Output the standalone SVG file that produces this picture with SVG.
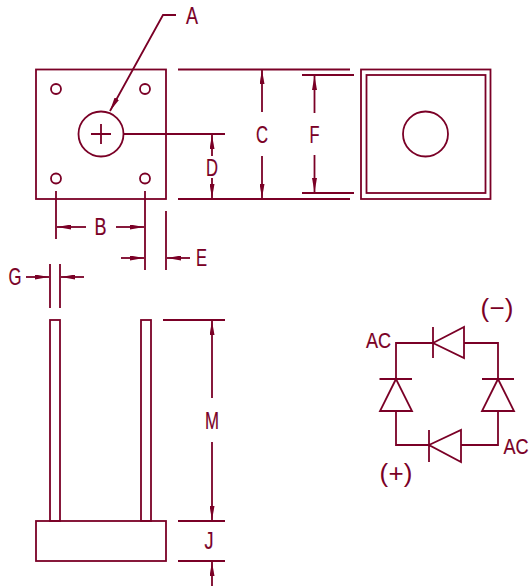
<svg xmlns="http://www.w3.org/2000/svg" width="530" height="586" viewBox="0 0 530 586">
<style>
.s{fill:none;stroke:#7a0026;stroke-width:1.8}
.t{fill:#7a0026;stroke:#7a0026;stroke-width:.2;font-family:"Liberation Sans",Arial,sans-serif;font-size:24px;text-anchor:middle}
.p{font-size:26px;stroke:none}
.c{font-size:22px}
</style>
<defs>
<marker id="a" viewBox="0 0 14 5" refX="14" refY="2.500" markerWidth="14" markerHeight="5" markerUnits="userSpaceOnUse" orient="auto"><path d="M0 0L14 2.500L0 5Z" fill="#7a0026"/></marker>
</defs>
<rect width="530" height="586" fill="#fff"/>
<g id="top-view" class="s">
<rect x="36" y="69.500" width="130" height="129.500"/>
<circle cx="56" cy="89" r="5"/><circle cx="145" cy="89" r="5"/><circle cx="56" cy="178.500" r="5"/><circle cx="145" cy="178.500" r="5"/>
<circle cx="101" cy="134" r="22.500"/>
<path d="M91 134H111M101 124V144"/>
</g>
<g id="back-view" class="s">
<rect x="361" y="69.500" width="129.500" height="129.500"/>
<rect x="366.500" y="75" width="119" height="118"/>
<circle cx="425.500" cy="134" r="22.500"/>
</g>
<g id="side-view" class="s">
<rect x="50" y="320" width="10" height="201"/>
<rect x="141" y="320" width="10" height="201"/>
<rect x="36" y="521" width="130" height="40"/>
</g>
<g id="connectors" class="s">
<path d="M176 15H163L110 111" marker-end="url(#a)"/>
<path d="M178 69.500H350M178 199H350M302 75H354M302 193H354M123 134H225"/>
<path d="M56 191V239M145 191V270M166 211V270M50 264V308M60 264V308"/>
<path d="M163 320H225M178 521H225M178 561H225"/>
<path d="M262 112V70" marker-end="url(#a)"/><path d="M262 156V198" marker-end="url(#a)"/>
<path d="M314.500 113V76" marker-end="url(#a)"/><path d="M314.500 155V192" marker-end="url(#a)"/>
<path d="M212 156V135" marker-end="url(#a)"/><path d="M212 178V198" marker-end="url(#a)"/>
<path d="M86 227H57" marker-end="url(#a)"/><path d="M116 227H144" marker-end="url(#a)"/>
<path d="M121 258H144" marker-end="url(#a)"/><path d="M190 258H167" marker-end="url(#a)"/>
<path d="M26 277H49" marker-end="url(#a)"/><path d="M84 277H61" marker-end="url(#a)"/>
<path d="M212 398V321" marker-end="url(#a)"/><path d="M212 442V520" marker-end="url(#a)"/>
<path d="M212 586V562" marker-end="url(#a)"/>
</g>
<g id="bridge" class="s">
<path d="M396 379V343H433M464 343H498V379M498 411V445H461M429 445H396V411"/>
<path d="M433 327V358M433 343L464 327V358Z"/>
<path d="M429 430V462M429 445L461 430V462Z"/>
<path d="M379.500 379H412M396 379L380 411H412Z"/>
<path d="M482 379H514M498 379L482 411H514Z"/>
</g>
<g id="labels">
<text class="t" x="192" y="24" textLength="12" lengthAdjust="spacingAndGlyphs">A</text>
<text class="t" x="100.500" y="235" textLength="12" lengthAdjust="spacingAndGlyphs">B</text>
<text class="t" x="262" y="143" textLength="12" lengthAdjust="spacingAndGlyphs">C</text>
<text class="t" x="212" y="176" textLength="12" lengthAdjust="spacingAndGlyphs">D</text>
<text class="t" x="201.500" y="266" textLength="11" lengthAdjust="spacingAndGlyphs">E</text>
<text class="t" x="314.500" y="143" textLength="10" lengthAdjust="spacingAndGlyphs">F</text>
<text class="t" x="15" y="285" textLength="13" lengthAdjust="spacingAndGlyphs">G</text>
<text class="t" x="212" y="429" textLength="14" lengthAdjust="spacingAndGlyphs">M</text>
<text class="t" x="209" y="549" textLength="9" lengthAdjust="spacingAndGlyphs">J</text>
<text class="t c" transform="translate(378.500 348) scale(.82 1)">AC</text>
<text class="t c" transform="translate(516 454) scale(.82 1)">AC</text>
<text class="t p" x="497" y="317" textLength="33" lengthAdjust="spacing">(−)</text>
<text class="t p" x="396" y="482" textLength="33" lengthAdjust="spacing">(+)</text>
</g>
</svg>
